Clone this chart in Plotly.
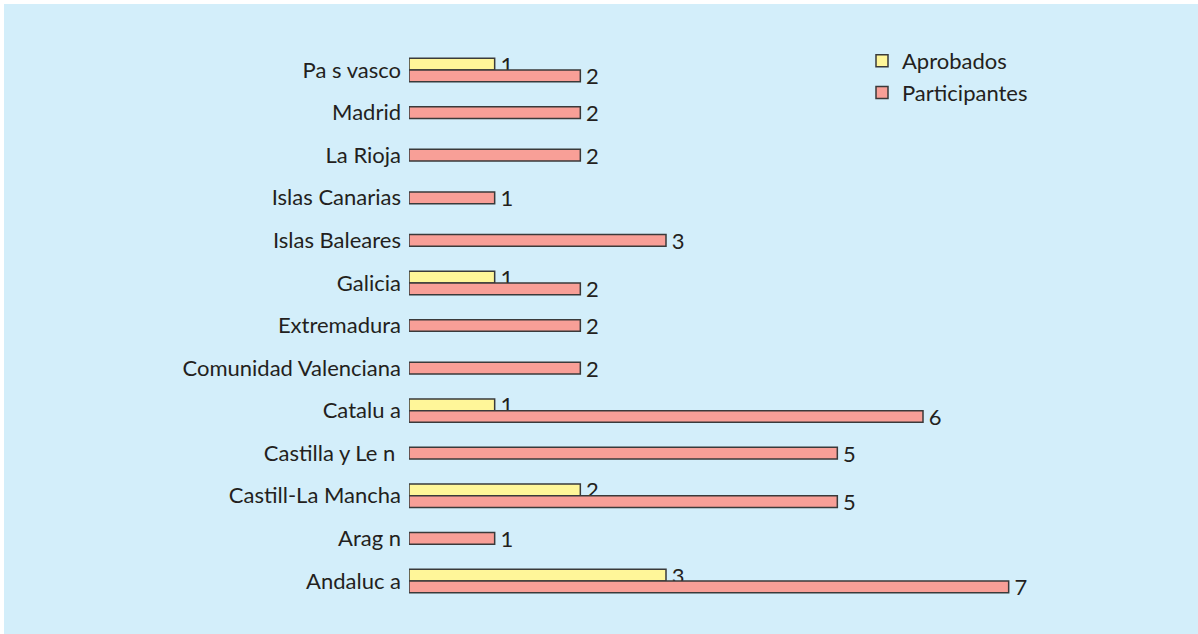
import plotly.graph_objects as go

# Data (bottom to top)
categories = ["Andaluc a", "Arag n", "Castill-La Mancha", "Castilla y Le n ", "Catalu a",
              "Comunidad Valenciana", "Extremadura", "Galicia", "Islas Baleares",
              "Islas Canarias", "La Rioja", "Madrid", "Pa s vasco"]
participantes = [7, 1, 5, 5, 6, 2, 2, 2, 3, 1, 2, 2, 2]
aprobados = [3, 0, 2, 0, 1, 0, 0, 1, 0, 0, 0, 0, 1]

W = 0.275
BG = "#D3EEFA"
YELLOW = "#FFF699"
SALMON = "#F89F97"
EDGE = "#3A3A3A"
TXT = "#231F20"
FONT = "Lato, 'Open Sans', sans-serif"
FS = 22

apr_vals = [a if a > 0 else None for a in aprobados]
apr_off = [0.0 for a in aprobados]
par_off = [-W if a > 0 else -W / 2 for a in aprobados]

fig = go.Figure()
fig.add_trace(go.Bar(
    y=categories, x=apr_vals, orientation="h", name="Aprobados",
    width=W, offset=apr_off,
    marker=dict(color=YELLOW, line=dict(color=EDGE, width=1.5)),
    text=apr_vals, texttemplate="\u2009%{x}", textposition="outside",
    textfont=dict(size=FS, color=TXT, family=FONT), constraintext="none",
    cliponaxis=False, hoverinfo="x+y",
))
fig.add_trace(go.Bar(
    y=categories, x=participantes, orientation="h", name="Participantes",
    width=W, offset=par_off,
    marker=dict(color=SALMON, line=dict(color=EDGE, width=1.5)),
    text=participantes, texttemplate="\u2009%{x}", textposition="outside",
    textfont=dict(size=FS, color=TXT, family=FONT), constraintext="none",
    cliponaxis=False, hoverinfo="x+y",
))

L, R, T, B = 409, 18, 36, 19
PW = 1198 - L - R
PH = 634 - T - B

fig.update_layout(
    width=1198, height=634,
    margin=dict(l=L, r=R, t=T, b=B),
    barmode="overlay",
    paper_bgcolor=BG, plot_bgcolor=BG,
    font=dict(family=FONT, size=FS, color=TXT),
    xaxis=dict(visible=False, range=[0, 9], showgrid=False, zeroline=False),
    yaxis=dict(type="category", categoryorder="array", categoryarray=categories,
               range=[-0.8, 12.8], showgrid=False, zeroline=False, showline=False,
               ticks="", ticklabelstandoff=7,
               tickfont=dict(size=FS, color=TXT, family=FONT)),
    legend=dict(x=(862 - L) / PW, y=1 - (40 - T) / PH, xanchor="left", yanchor="top",
                bgcolor="rgba(0,0,0,0)", font=dict(size=FS, color=TXT, family=FONT),
                traceorder="normal", itemclick=False),
    showlegend=True,
    shapes=[
        dict(type="rect", xref="paper", yref="paper", layer="above",
             x0=-L / PW, x1=(4 - L) / PW, y0=-B / PH, y1=1 + T / PH,
             fillcolor="white", line=dict(width=0)),
        dict(type="rect", xref="paper", yref="paper", layer="above",
             x0=-L / PW, x1=1 + R / PW, y0=1 + (T - 4) / PH, y1=1 + T / PH,
             fillcolor="white", line=dict(width=0)),
    ],
)

fig.write_html("out.html", config={"displayModeBar": False},
               post_script="document.body.style.margin='0';")
